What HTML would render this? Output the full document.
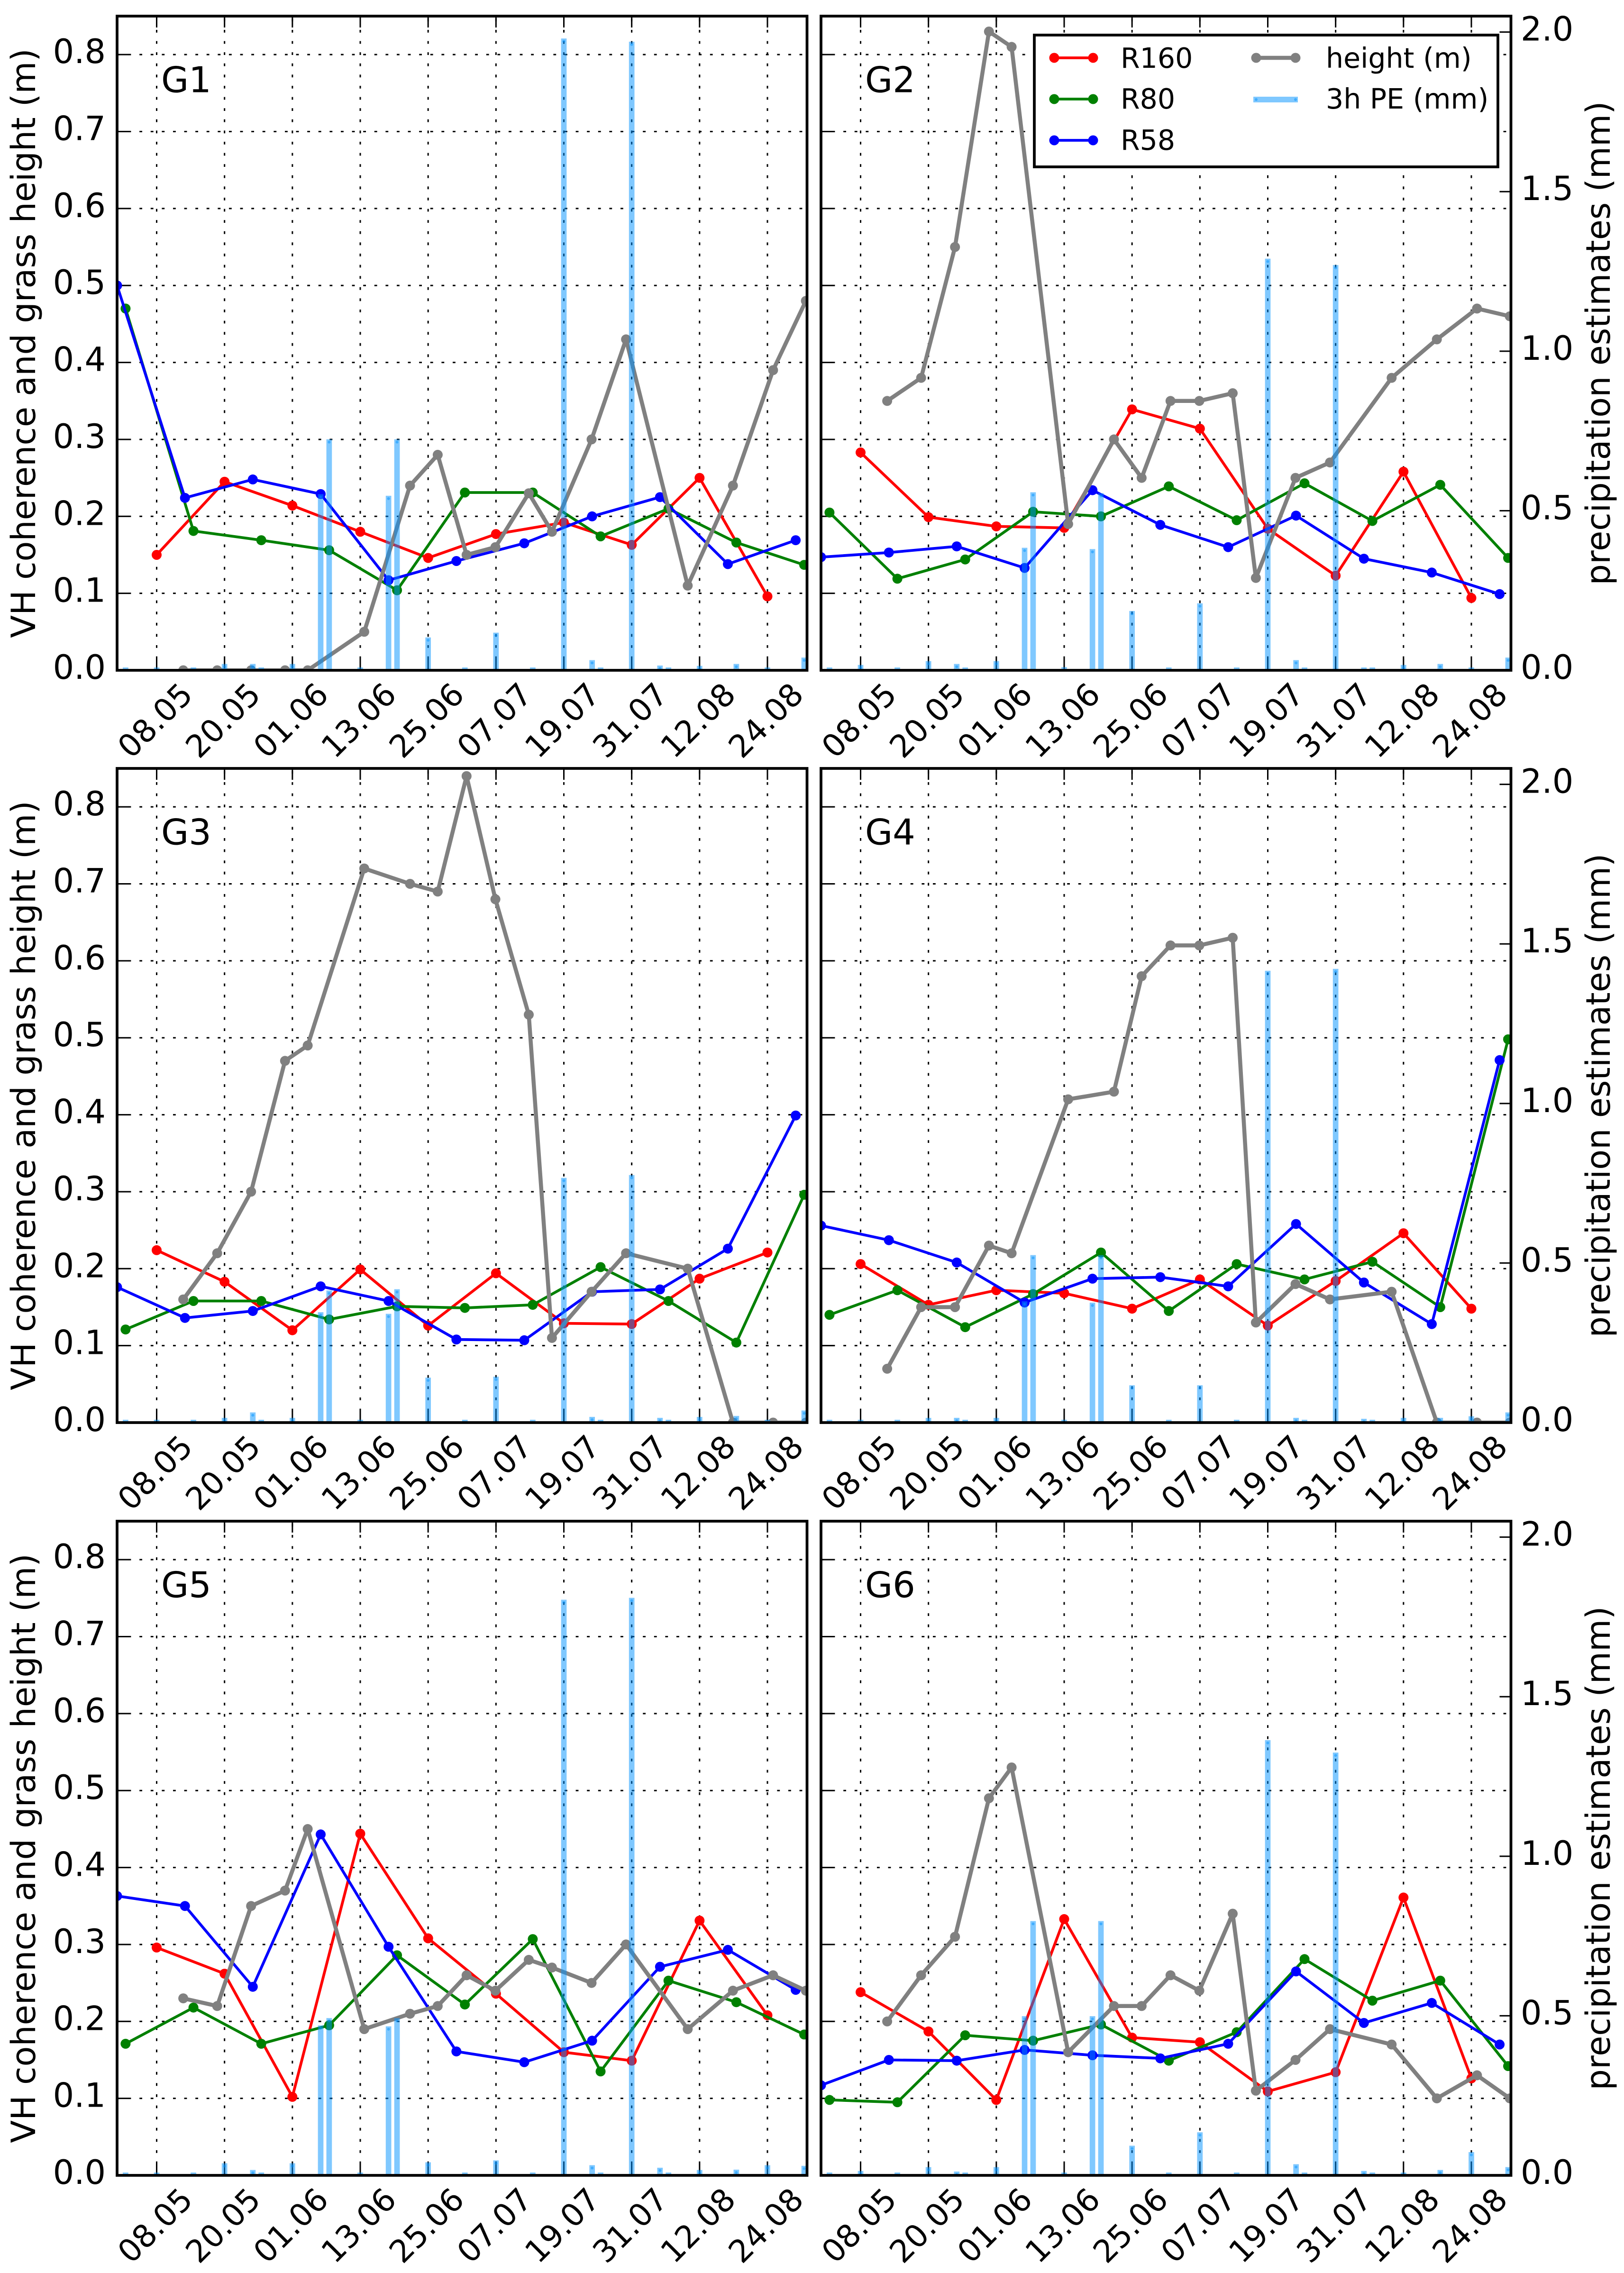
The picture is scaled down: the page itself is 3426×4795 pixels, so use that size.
<!DOCTYPE html>
<html lang="en">
<head>
<meta charset="utf-8">
<title>VH coherence, grass height and precipitation estimates G1-G6</title>
<style>
html,body{margin:0;padding:0;background:#fff;}
svg{display:block;font-family:"DejaVu Sans","Liberation Sans",sans-serif;}
</style>
</head>
<body>
<svg id="chart" xmlns="http://www.w3.org/2000/svg" width="3426" height="4795" viewBox="0 0 3426 4795">
  <rect x="0" y="0" width="3426" height="4795" fill="#ffffff"/>
  <defs id="clips"></defs>
  <g id="panels"></g>
  <g>
    <rect x="2182" y="74" width="978" height="278" fill="#fff" stroke="#000" stroke-width="5.8"/>
    <g>
      <line x1="2224" y1="122" x2="2306" y2="122" stroke="#ff0000" stroke-width="5.8"/>
      <circle cx="2224" cy="122" r="10.5" fill="#ff0000"/><circle cx="2306" cy="122" r="10.5" fill="#ff0000"/>
      <text x="2364" y="143" font-size="58.5">R160</text>
    </g>
    <g>
      <line x1="2224" y1="209" x2="2306" y2="209" stroke="#008000" stroke-width="5.8"/>
      <circle cx="2224" cy="209" r="10.5" fill="#008000"/><circle cx="2306" cy="209" r="10.5" fill="#008000"/>
      <text x="2364" y="229" font-size="58.5">R80</text>
    </g>
    <g>
      <line x1="2224" y1="296" x2="2306" y2="296" stroke="#0000ff" stroke-width="5.8"/>
      <circle cx="2224" cy="296" r="10.5" fill="#0000ff"/><circle cx="2306" cy="296" r="10.5" fill="#0000ff"/>
      <text x="2364" y="316" font-size="58.5">R58</text>
    </g>
    <g>
      <line x1="2650" y1="122" x2="2733" y2="122" stroke="#808080" stroke-width="8.5"/>
      <circle cx="2650" cy="122" r="10.5" fill="#808080"/><circle cx="2733" cy="122" r="10.5" fill="#808080"/>
      <text x="2797" y="143" font-size="58.5">height (m)</text>
    </g>
    <g>
      <rect x="2644" y="204" width="94" height="12" fill="rgba(0,145,255,0.5)"/>
      <circle cx="2650" cy="210" r="3" fill="rgba(0,145,255,0.5)"/><circle cx="2733" cy="210" r="3" fill="rgba(0,145,255,0.5)"/>
      <text x="2797" y="229" font-size="58.5">3h PE (mm)</text>
    </g>
  </g>
</svg>
<script>
// ---- shared axis data ----
const xTickDays = [7, 19, 31, 43, 55, 67, 79, 91, 103, 115];
const xTickLabels = ["08.05", "20.05", "01.06", "13.06", "25.06", "07.07", "19.07", "31.07", "12.08", "24.08"];
const leftTicks = [0.0, 0.1, 0.2, 0.3, 0.4, 0.5, 0.6, 0.7, 0.8];
const leftTickLabels = ["0.0", "0.1", "0.2", "0.3", "0.4", "0.5", "0.6", "0.7", "0.8"];
const rightTicks = [0.0, 0.5, 1.0, 1.5, 2.0];
const rightTickLabels = ["0.0", "0.5", "1.0", "1.5", "2.0"];
const panelNames = ["G1", "G2", "G3", "G4", "G5", "G6"];

// days since 1 May for each series
const r160Days = [7, 19, 31, 43, 55, 67, 79, 91, 103, 115];
const r80Days = [1.5, 13.5, 25.5, 37.5, 49.5, 61.5, 73.5, 85.5, 97.5, 109.5, 121.5];
const r58Days = [0, 12, 24, 36, 48, 60, 72, 84, 96, 108, 120];
const heightDays = [11.7, 17.7, 23.7, 29.7, 33.7, 43.7, 51.8, 56.7, 61.8, 66.9, 72.8, 76.9, 83.9, 90, 100.9, 108.9, 116, 121.8];
const rainDays = [1.5, 7, 13.5, 19, 24, 25.5, 31, 36, 37.5, 43, 48, 49.5, 55, 61.5, 67, 73.5, 79, 84, 85.5, 91, 96, 97.5, 103, 109.5, 115, 121.5];

// ---- G1 ----
const g1R160 = [.150, .245, .214, .180, .146, .177, .192, .163, .250, .096];
const g1R80 = [.470, .181, .169, .156, .104, .231, .231, .174, .210, .166, .137];
const g1R58 = [.500, .224, .248, .229, .117, .142, .165, .200, .225, .138, .169];
const g1Height = [0, 0, 0, 0, 0, .05, .24, .28, .15, .16, .23, .18, .30, .43, .11, .24, .39, .48];
const g1Rain = [0, 0, 0, .011, .011, 0, .011, .543, .715, 0, .538, .715, .094, 0, .109, 0, 1.971, .023, 0, 1.961, .006, 0, .005, .011, 0, .031];
// ---- G2 ----
const g2R160 = [.283, .199, .187, .185, .339, .314, .184, .123, .258, .094];
const g2R80 = [.205, .119, .144, .206, .200, .239, .195, .243, .194, .241, .146];
const g2R58 = [.147, .153, .161, .133, .234, .189, .160, .201, .145, .127, .099];
const g2Height = [.35, .38, .55, .83, .81, .19, .30, .25, .35, .35, .36, .12, .25, .27, .38, .43, .47, .46];
const g2Rain = [0, .008, 0, .02, .011, 0, .02, .375, .549, .001, .371, .546, .177, 0, .201, 0, 1.281, .023, 0, 1.261, 0, 0, .008, .011, 0, .031];
// ---- G3 ----
const g3R160 = [.224, .183, .120, .199, .126, .194, .129, .128, .187, .221];
const g3R80 = [.121, .158, .158, .134, .151, .149, .153, .202, .158, .104, .296];
const g3R58 = [.176, .136, .145, .177, .158, .108, .107, .170, .173, .226, .399];
const g3Height = [.16, .22, .30, .47, .49, .72, .70, .69, .84, .68, .53, .11, .17, .22, .20, 0, 0, 0];
const g3Rain = [0, 0, 0, .006, .023, 0, .006, .337, .405, 0, .332, .409, .132, 0, .135, 0, .758, .009, 0, .767, .006, 0, .009, .012, 0, .029];
// ---- G4 ----
const g4R160 = [.206, .153, .172, .168, .148, .186, .126, .184, .246, .148];
const g4R80 = [.140, .172, .124, .167, .221, .145, .206, .186, .209, .150, .498];
const g4R58 = [.256, .237, .208, .156, .187, .189, .177, .258, .182, .128, .471];
const g4Height = [.07, .15, .15, .23, .22, .42, .43, .58, .62, .62, .63, .13, .18, .16, .17, 0, 0, 0];
const g4Rain = [0, 0, 0, .006, .006, 0, .006, .371, .516, 0, .367, .516, .108, 0, .108, 0, 1.407, .006, 0, 1.413, .003, 0, .006, .006, .011, .023];
// ---- G5 ----
const g5R160 = [.296, .262, .102, .444, .308, .236, .160, .149, .331, .208];
const g5R80 = [.171, .218, .171, .195, .286, .222, .307, .135, .253, .225, .183];
const g5R58 = [.363, .350, .245, .443, .297, .161, .147, .175, .271, .293, .241];
const g5Height = [.23, .22, .35, .37, .45, .19, .21, .22, .26, .24, .28, .27, .25, .30, .19, .24, .26, .24];
const g5Rain = [0, 0, 0, .029, .008, 0, .029, .461, .484, 0, .458, .484, .032, 0, .038, 0, 1.795, .023, 0, 1.801, .015, 0, .008, .009, .023, .021];
// ---- G6 ----
const g6R160 = [.238, .187, .098, .333, .179, .173, .109, .134, .361, .126];
const g6R80 = [.098, .095, .182, .175, .196, .149, .186, .281, .227, .253, .142];
const g6R58 = [.117, .150, .149, .163, .156, .152, .171, .265, .198, .224, .170];
const g6Height = [.20, .26, .31, .49, .53, .16, .22, .22, .26, .24, .34, .11, .15, .19, .17, .10, .13, .10];
const g6Rain = [0, .005, 0, .017, .003, 0, .017, .49, .788, 0, .49, .788, .084, 0, .126, 0, 1.355, .026, 0, 1.316, .005, 0, 0, .008, .064, .017];

const r160Sets = [g1R160, g2R160, g3R160, g4R160, g5R160, g6R160];
const r80Sets = [g1R80, g2R80, g3R80, g4R80, g5R80, g6R80];
const r58Sets = [g1R58, g2R58, g3R58, g4R58, g5R58, g6R58];
const heightSets = [g1Height, g2Height, g3Height, g4Height, g5Height, g6Height];
const rainSets = [g1Rain, g2Rain, g3Rain, g4Rain, g5Rain, g6Rain];

const NS = "http://www.w3.org/2000/svg";
const colLefts = [247, 1732];
const rowTops = [34, 1621, 3209];
const PANEL_W = 1455.5, PANEL_H = 1380;
const X_MAX = 122, LEFT_MAX = 0.85, RIGHT_MAX = 2.05;
const TICK = 24, GRID_DASH = "5.8 17.8", BAR_W = 11.7, BAR_CAP = 6;
const BAR_FILL = "rgba(0,145,255,0.5)";

function el(parent, tag, attrs, text) {
  const n = document.createElementNS(NS, tag);
  for (const k in attrs) n.setAttribute(k, attrs[k]);
  if (text !== undefined) n.textContent = text;
  parent.appendChild(n);
  return n;
}

function drawSeries(root, name, days, values, color, width, X, Y, clipId) {
  const g = el(root, "g", { "clip-path": "url(#" + clipId + ")" });
  
  
  const pts = days.map(function (d, i) { return X(d).toFixed(1) + "," + Y(values[i]).toFixed(1); }).join(" ");
  const line = el(g, "polyline", { points: pts, fill: "none", stroke: color, "stroke-width": width, "stroke-linejoin": "round" });
  
  
  days.forEach(function (d, i) {
    const c = el(g, "circle", { cx: X(d).toFixed(1), cy: Y(values[i]).toFixed(1), r: 10.5, fill: color });
    
    
  });
}

function drawPanel(idx) {
  const col = idx % 2, row = Math.floor(idx / 2);
  const L = colLefts[col], T = rowTops[row], B = T + PANEL_H, R = L + PANEL_W;
  const X = function (d) { return L + d / X_MAX * PANEL_W; };
  const YL = function (v) { return B - v / LEFT_MAX * PANEL_H; };
  const YR = function (v) { return B - v / RIGHT_MAX * PANEL_H; };
  const label = panelNames[idx].toLowerCase();
  const clipId = "clip-" + label;
  const cp = el(document.getElementById("clips"), "clipPath", { id: clipId });
  el(cp, "rect", { x: L, y: T, width: PANEL_W, height: PANEL_H });

  const p = el(document.getElementById("panels"), "g", {});
  
  

  // grid
  const grid = el(p, "g", { stroke: "#000", "stroke-width": 3, "stroke-dasharray": GRID_DASH, fill: "none" });
  
  
  xTickDays.forEach(function (d) {
    const ln = el(grid, "line", { x1: X(d), y1: B, x2: X(d), y2: T });
    
    
  });
  leftTicks.forEach(function (v) {
    const ln = el(grid, "line", { x1: L, y1: YL(v), x2: R, y2: YL(v) });
    
    
  });

  // tick marks
  const ticks = el(p, "g", { stroke: "#000", "stroke-width": 3 });
  
  
  xTickDays.forEach(function (d) {
    el(ticks, "line", { x1: X(d), y1: B, x2: X(d), y2: B - TICK });
    el(ticks, "line", { x1: X(d), y1: T, x2: X(d), y2: T + TICK });
  });
  leftTicks.forEach(function (v) {
    el(ticks, "line", { x1: L, y1: YL(v), x2: L + TICK, y2: YL(v) });
  });
  if (col === 1) {
    rightTicks.forEach(function (v) {
      el(ticks, "line", { x1: R, y1: YR(v), x2: R - TICK, y2: YR(v) });
    });
  }

  // series
  drawSeries(p, 'r160', r160Days, r160Sets[idx], "#ff0000", 5.8, X, YL, clipId);
  drawSeries(p, 'r80', r80Days, r80Sets[idx], "#008000", 5.8, X, YL, clipId);
  drawSeries(p, 'r58', r58Days, r58Sets[idx], "#0000ff", 5.8, X, YL, clipId);
  drawSeries(p, 'height', heightDays, heightSets[idx], "#808080", 8.5, X, YL, clipId);

  // precipitation bars (right axis)
  const bars = el(p, "g", { "clip-path": "url(#" + clipId + ")" });
  
  
  rainDays.forEach(function (d, i) {
    const yv = YR(rainSets[idx][i]);
    const bar = el(bars, "rect", { x: X(d) - BAR_W / 2, y: yv - BAR_CAP, width: BAR_W, height: B - yv + BAR_CAP, fill: BAR_FILL });
    
    
    const dot = el(bars, "circle", { cx: X(d), cy: yv, r: 3, fill: BAR_FILL });
    
    
  });

  // spines
  const frame = el(p, "rect", { x: L, y: T, width: PANEL_W, height: PANEL_H, fill: "none", stroke: "#000", "stroke-width": 5.8 });
  
  

  // x tick labels
  xTickDays.forEach(function (d, i) {
    const cx = X(d) - 4, cy = B + 105;
    const t = el(p, "text", { x: 0, y: 24, "font-size": 66, "text-anchor": "middle", transform: "translate(" + cx + " " + cy + ") rotate(-45)" }, xTickLabels[i]);
    
    
  });

  // y tick labels and axis titles
  if (col === 0) {
    leftTicks.forEach(function (v, i) {
      const t = el(p, "text", { x: 223, y: YL(v) + 18, "font-size": 70, "text-anchor": "end" }, leftTickLabels[i]);
      
      
    });
    const yt = el(p, "text", { x: 0, y: 0, "font-size": 70, "text-anchor": "middle", transform: "translate(74 " + (T + PANEL_H / 2) + ") rotate(-90)" }, "VH coherence and grass height (m)");
    
    
  } else {
    rightTicks.forEach(function (v, i) {
      const t = el(p, "text", { x: 3208, y: YR(v) + 18, "font-size": 70 }, rightTickLabels[i]);
      
      
    });
    const yt = el(p, "text", { x: 0, y: 0, "font-size": 70, "text-anchor": "middle", transform: "translate(3396 " + (T + PANEL_H / 2) + ") rotate(-90)" }, "precipitation estimates (mm)");
    
    
  }

  // panel label
  const pl = el(p, "text", { x: L + 93, y: YL(0.751), "font-size": 75 }, panelNames[idx]);
  
  
}

panelNames.forEach(function (n, i) { drawPanel(i); });
</script>
</body>
</html>
